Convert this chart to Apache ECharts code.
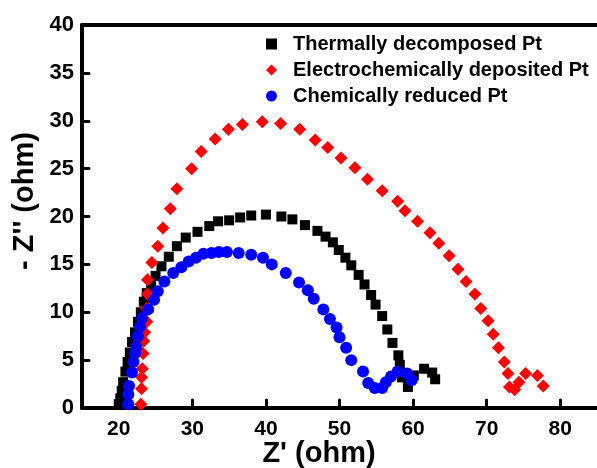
<!DOCTYPE html>
<html>
<head>
<meta charset="utf-8">
<script src="https://cdn.jsdelivr.net/npm/echarts@6/dist/echarts.min.js"></script>
<style>
  html, body { margin: 0; padding: 0; background: #fff; }
  #chart { width: 597px; height: 468px; }
</style>
</head>
<body>
<div id="chart"></div>
<script>
// Nyquist plots, Z' vs -Z'' (ohm)
const seriesNames = ['Thermally decomposed Pt', 'Electrochemically deposited Pt', 'Chemically reduced Pt']
const xTicks = [20, 30, 40, 50, 60, 70, 80]

const thermal = [
  [20.0, 0.4], [20.2, 1.0], [20.4, 1.8], [20.6, 2.7], [20.9, 3.8], [21.2, 4.8], [21.5, 5.8],
  [21.8, 6.9], [22.2, 7.9], [22.6, 9.0], [23.0, 10.0], [23.4, 11.1], [23.8, 12.0], [24.4, 12.8],
  [25.0, 13.8], [25.8, 14.8], [26.8, 15.8], [27.9, 16.9], [29.1, 17.8], [30.7, 18.4], [32.3, 19.0],
  [33.5, 19.5], [35.0, 19.6], [36.5, 19.9], [38.0, 20.1], [40.0, 20.2], [42.1, 20.0], [43.6, 19.7],
  [45.3, 19.1], [47.0, 18.5], [48.1, 17.9], [49.1, 17.3], [49.9, 16.5], [50.8, 15.7], [51.6, 14.9],
  [52.6, 13.9], [53.4, 12.9], [54.3, 11.8], [54.9, 10.8], [55.8, 9.6], [56.5, 8.2], [57.2, 6.8],
  [58.0, 5.5], [58.2, 4.5], [58.5, 3.2], [59.3, 2.2], [60.1, 3.4], [61.5, 4.1], [62.6, 3.7], [63.0, 3.0]
]

const electro = [
  [23.0, 0.4], [23.1, 2.0], [23.1, 3.2], [23.2, 4.1], [23.3, 5.7], [23.4, 7.0], [23.5, 7.9],
  [23.8, 9.0], [23.8, 10.4], [23.9, 11.9], [23.9, 13.4], [24.5, 15.2], [25.3, 16.9], [26.0, 18.8],
  [27.0, 20.8], [27.9, 22.9], [29.9, 25.0], [31.2, 26.8], [33.1, 28.1], [34.9, 29.1], [36.8, 29.6],
  [39.5, 29.9], [42.0, 29.7], [44.6, 29.1], [46.7, 28.0], [48.4, 27.2], [50.2, 26.1], [52.1, 25.1],
  [53.8, 23.9], [55.8, 22.7], [57.9, 21.6], [58.9, 20.6], [60.6, 19.5], [62.3, 18.3], [63.5, 17.2],
  [64.9, 15.9], [66.1, 14.5], [67.2, 13.2], [68.4, 11.9], [69.2, 10.4], [70.2, 9.1], [70.9, 7.7],
  [71.6, 6.3], [72.4, 4.8], [72.9, 3.6], [73.1, 2.2], [73.8, 1.9], [74.4, 2.7], [75.3, 3.6],
  [76.9, 3.4], [77.7, 2.3]
]

const chemical = [
  [21.3, 0.4], [21.3, 1.4], [21.4, 2.3], [21.8, 3.7], [22.0, 4.8], [22.2, 5.7], [22.4, 6.4],
  [22.6, 7.5], [22.9, 8.5], [23.2, 9.4], [24.0, 10.3], [24.8, 11.3], [25.3, 12.2], [26.2, 13.2],
  [27.4, 14.1], [28.5, 14.7], [29.5, 15.3], [30.5, 15.7], [31.5, 16.1], [32.6, 16.2], [33.6, 16.3],
  [34.7, 16.3], [36.3, 16.2], [38.0, 16.0], [39.6, 15.7], [40.8, 15.0], [42.7, 14.1], [44.5, 13.1],
  [45.7, 12.3], [46.5, 11.4], [47.8, 10.3], [48.7, 9.3], [49.6, 8.4], [50.0, 7.4], [50.9, 6.3],
  [51.6, 5.0], [53.2, 3.8], [53.9, 2.6], [54.8, 2.1], [55.8, 2.1], [56.3, 2.7], [57.0, 3.3],
  [57.9, 3.8], [59.2, 3.6], [59.8, 2.9]
]

const FONT = '"Liberation Sans", Arial, sans-serif'
const chart = echarts.init(document.getElementById('chart'), null, { renderer: 'canvas' })

const axisLine = { show: true, onZero: false, lineStyle: { color: '#000', width: 4 } }

chart.setOption({
  animation: false,
  backgroundColor: '#fff',
  grid: { left: 82, right: -5, top: 25, bottom: 60 },
  legend: {
    orient: 'vertical',
    left: 266,
    top: 34,
    padding: 0,
    itemWidth: 11,
    itemHeight: 11,
    itemGap: 6,
    textStyle: {
      fontFamily: FONT, fontWeight: 'bold', fontSize: 20, color: '#000', lineHeight: 20,
      padding: [0, 0, 0, 11]
    },
    data: [
      { name: seriesNames[0], icon: 'rect' },
      { name: seriesNames[1], icon: 'diamond' },
      { name: seriesNames[2], icon: 'circle' }
    ]
  },
  xAxis: [{
    type: 'value',
    min: 15,
    max: 85,
    axisLine,
    splitLine: { show: false },
    axisTick: { show: true, inside: true, length: 8, customValues: xTicks, lineStyle: { color: '#000', width: 3, cap: 'round' } },
    axisLabel: { customValues: xTicks, margin: 11, fontFamily: FONT, fontWeight: 'bold', fontSize: 21, color: '#000' }
  }, {
    type: 'value',
    position: 'top',
    min: 15,
    max: 85,
    axisLine,
    axisTick: { show: false },
    axisLabel: { show: false },
    splitLine: { show: false }
  }],
  yAxis: {
    type: 'value',
    min: 0,
    max: 40,
    interval: 5,
    axisLine,
    splitLine: { show: false },
    axisTick: { show: true, inside: true, length: 7, lineStyle: { color: '#000', width: 3, cap: 'round' } },
    axisLabel: { margin: 8, fontFamily: FONT, fontWeight: 'bold', fontSize: 22, color: '#000' }
  },
  graphic: [{
    type: 'text',
    x: 319,
    y: 454,
    style: { text: "Z' (ohm)", fontFamily: FONT, fontWeight: 'bold', fontSize: 29, fill: '#000', align: 'center', verticalAlign: 'middle' }
  }, {
    type: 'text',
    x: 25,
    y: 201,
    rotation: Math.PI / 2,
    style: { text: "- Z'' (ohm)", fontFamily: FONT, fontWeight: 'bold', fontSize: 29, fill: '#000', align: 'center', verticalAlign: 'middle' }
  }],
  series: [
    { name: seriesNames[0], type: 'scatter', symbol: 'rect', symbolSize: 10, itemStyle: { color: '#000000', opacity: 1 }, data: thermal },
    { name: seriesNames[1], type: 'scatter', symbol: 'diamond', symbolSize: 13, itemStyle: { color: '#ff0000', opacity: 1 }, data: electro },
    { name: seriesNames[2], type: 'scatter', symbol: 'circle', symbolSize: 12, itemStyle: { color: '#0000ff', opacity: 1 }, data: chemical }
  ]
})
</script>
</body>
</html>
